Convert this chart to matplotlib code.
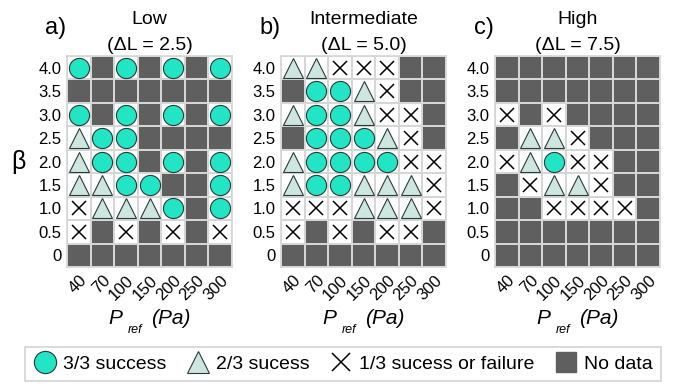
import matplotlib.pyplot as plt
import numpy as np
from matplotlib.colors import ListedColormap
from matplotlib.lines import Line2D

plt.rcParams['font.family'] = ['Liberation Sans', 'DejaVu Sans']

# === DATA ===
pressures = ["40", "70", "100", "150", "200", "250", "300"]
betas = ["0", "0.5", "1.0", "1.5", "2.0", "2.5", "3.0", "3.5", "4.0"]

# rows go from beta = 4.0 (top) down to 0, columns follow pressures
# C = 3/3 success, T = 2/3 success, X = 1/3 success or failure, N = no data
low = ["CNCNCNC",
       "NNNNNNN",
       "CNCNCNC",
       "TCCNNNN",
       "TCCNCNC",
       "TTCCNNC",
       "XTTTCNC",
       "XNXNXNX",
       "NNNNNNN"]
intermediate = ["TTXXXNN",
                "NCCTXNN",
                "TCCTXXN",
                "NCCCTXN",
                "TCCCCXX",
                "TCCTTTX",
                "XXXTTTX",
                "XNXNXXN",
                "NNNNNNN"]
high = ["NNNNNNN",
        "NNNNNNN",
        "XNXNNNN",
        "NTTXNNN",
        "XTCXXNN",
        "NXTTXNN",
        "NNXXXXN",
        "NNNNNNN",
        "NNNNNNN"]

panels = [low, intermediate, high]
panel_tags = ["a)", "b)", "c)"]
titles = ["Low\n(ΔL = 2.5)", "Intermediate\n(ΔL = 5.0)", "High\n(ΔL = 7.5)"]

# === STYLE ===
dark = '#5f5f5f'
gridc = '#d6d6d6'
styles = {
    'C': dict(marker='o', markersize=14.5, markerfacecolor='#22e5c5',
              markeredgecolor='#2a3a38', markeredgewidth=0.8),
    'T': dict(marker='^', markersize=14, markerfacecolor='#cde6e0',
              markeredgecolor='#2a3a38', markeredgewidth=0.8),
    'X': dict(marker='x', markersize=10.5, markeredgecolor='black',
              markeredgewidth=1.1),
}

fig = plt.figure(figsize=(6.78, 3.85), dpi=100)
lefts = [67 / 678, 281 / 678, 495 / 678]
bottom = 1 - 267 / 385
height = 211 / 385
width = 165 / 678

for k, grid in enumerate(panels):
    ax = fig.add_axes([lefts[k], bottom, width, height])
    codes = np.array([list(r) for r in grid])[::-1]  # row 0 = beta 0
    nodata = (codes == 'N').astype(int)
    ax.pcolormesh(np.arange(8) - 0.5, np.arange(10) - 0.5, nodata,
                  cmap=ListedColormap(['white', dark]), vmin=0, vmax=1,
                  edgecolors=gridc, linewidth=1.2)
    for code, st in styles.items():
        yy, xx = np.nonzero(codes == code)
        ax.plot(xx, yy, linestyle='none', **st)
    ax.set_xlim(-0.5, 6.5)
    ax.set_ylim(-0.5, 8.5)
    ax.set_xticks(range(len(pressures)))
    ax.set_xticklabels(pressures, rotation=45, ha='right',
                       rotation_mode='anchor', fontsize=12)
    ax.set_yticks(range(len(betas)))
    ax.set_yticklabels(betas, fontsize=12)
    ax.tick_params(length=0, pad=4)
    for s in ax.spines.values():
        s.set_color(gridc)
        s.set_linewidth(1.2)
    ax.set_title(titles[k], fontsize=14, linespacing=1.7, pad=4)

    # x label: P with a lowered "ref" subscript, then the unit
    ax.text(0.29, -0.245, "P", transform=ax.transAxes, fontsize=15,
            style='italic', ha='center', va='center')
    ax.text(0.41, -0.30, "ref", transform=ax.transAxes, fontsize=9,
            style='italic', ha='center', va='center')
    ax.text(0.63, -0.245, "(Pa)", transform=ax.transAxes, fontsize=15,
            style='italic', ha='center', va='center')

    ax.text(-0.005, 1.135, panel_tags[k], transform=ax.transAxes,
            fontsize=17, ha='right', va='center')
    if k == 0:
        ax.set_ylabel("β", fontsize=18, rotation=0, va='center', labelpad=14)

# === LEGEND ===
leg_styles = [dict(styles['C'], markersize=16), dict(styles['T'], markersize=16),
              dict(styles['X'], markersize=13)]
handles = [Line2D([], [], linestyle='none', **st) for st in leg_styles]
handles.append(Line2D([], [], linestyle='none', marker='s', markersize=14,
                      markerfacecolor=dark, markeredgecolor=dark))
labels = ["3/3 success", "2/3 sucess", "1/3 sucess or failure", "No data"]
leg = fig.legend(handles, labels, loc='center', ncol=4,
                 bbox_to_anchor=(343 / 678, 1 - 364 / 385), fontsize=14,
                 frameon=True, fancybox=False, edgecolor='#c8c8c8',
                 handletextpad=0.35, columnspacing=1.0, borderpad=0.4,
                 borderaxespad=0, handlelength=1.2)
leg.get_frame().set_linewidth(1.2)

fig.savefig("out.png", dpi=100)
